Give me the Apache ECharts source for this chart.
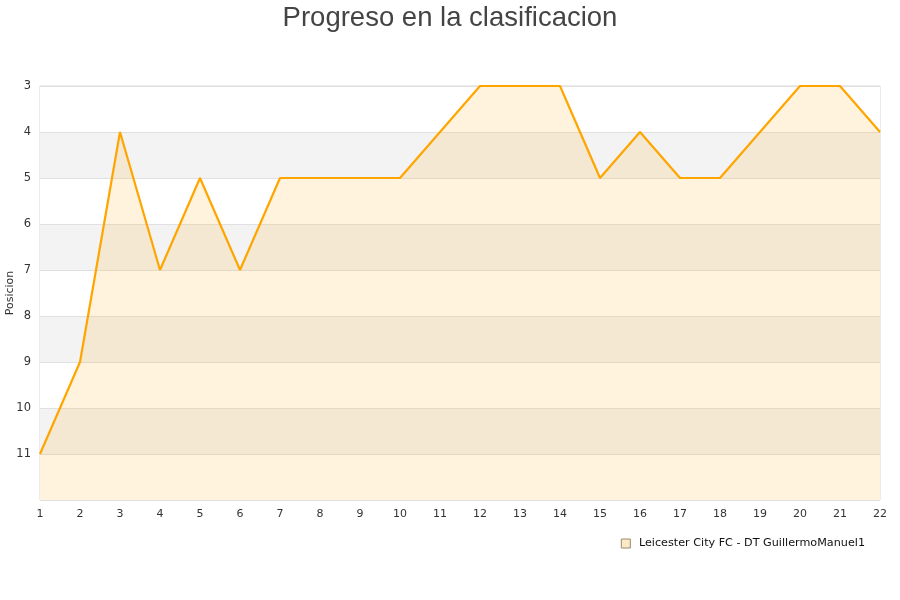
<!DOCTYPE html>
<html>
<head>
<meta charset="utf-8">
<script src="https://cdn.jsdelivr.net/npm/echarts@6/dist/echarts.min.js"></script>
<style>html,body{margin:0;padding:0;background:#fff}#c{width:900px;height:600px}</style>
</head>
<body>
<div id="c"></div>
<script>
var titleText = 'Progreso en la clasificacion';
var seriesName = 'Leicester City FC - DT GuillermoManuel1';
var jornadas = ['1','2','3','4','5','6','7','8','9','10','11','12','13','14','15','16','17','18','19','20','21','22'];
var posiciones = [11, 9, 4, 7, 5, 7, 5, 5, 5, 5, 4, 3, 3, 3, 5, 4, 5, 5, 4, 3, 3, 4];
var yMin = 3, yMax = 12;

var chart = echarts.init(document.getElementById('c'));
chart.setOption({
  animation: false,
  backgroundColor: '#fff',
  title: {
    text: titleText, left: 'center', top: -1,
    textStyle: { fontFamily: 'Liberation Sans', fontSize: 27.5, fontWeight: 'normal', color: '#444' }
  },
  legend: {
    right: 30, top: 533, itemWidth: 9, itemHeight: 9, itemGap: 6,
    icon: 'rect',
    formatter: function (n) { return ' ' + n; },
    textStyle: { fontFamily: 'DejaVu Sans', fontSize: 11.2, color: '#111' },
    data: [{ name: seriesName, itemStyle: { color: '#fde9c6', borderColor: '#9a8a70', borderWidth: 1 } }]
  },
  grid: { left: 40, right: 20, top: 86, bottom: 100, outerBoundsMode: 'none', containLabel: false,
    show: true, borderColor: '#d8d8d8', borderWidth: 1 },
  xAxis: {
    type: 'category', data: jornadas, boundaryGap: false,
    axisLine: { show: false }, axisTick: { show: false },
    axisLabel: { fontFamily: 'DejaVu Sans', fontSize: 11, color: '#333', margin: 9 },
    splitLine: { show: false }
  },
  yAxis: {
    type: 'value', inverse: true, min: yMin, max: yMax, interval: 1,
    name: 'Posicion', nameLocation: 'middle', nameGap: 24, nameRotate: 90, nameMoveOverlap: false,
    nameTextStyle: { fontFamily: 'DejaVu Sans', fontSize: 11, color: '#333' },
    axisLine: { show: false }, axisTick: { show: false },
    axisLabel: { fontFamily: 'DejaVu Sans', fontSize: 11.5, color: '#333', margin: 9,
      formatter: function (v) { return v >= yMax ? '' : String(v); } },
    splitLine: { show: true, lineStyle: { color: '#e0e0e0', width: 1 } },
    splitArea: { show: true, areaStyle: { color: ['#ffffff', '#f3f3f3'] } }
  },
  series: [{
    name: seriesName, type: 'line', data: posiciones,
    symbol: 'none', smooth: false,
    lineStyle: { color: '#ffa500', width: 2.2 },
    itemStyle: { color: '#ffa500' },
    areaStyle: { color: 'rgba(255,170,20,0.2)', origin: 'end' }
  }]
});
</script>
</body>
</html>
